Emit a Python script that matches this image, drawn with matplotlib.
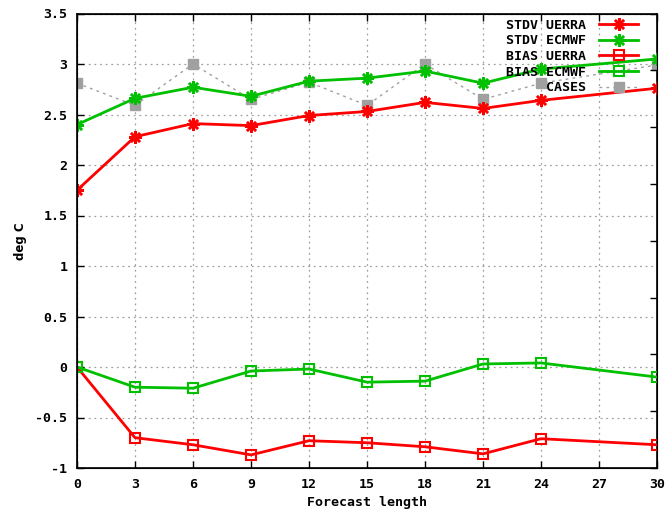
import matplotlib
matplotlib.use("Agg")
import matplotlib.pyplot as plt

# forecast lead times (h)
steps = [0, 3, 6, 9, 12, 15, 18, 21, 24, 30]

stdv_uerra = [1.75, 2.28, 2.41, 2.39, 2.49, 2.53, 2.62, 2.56, 2.64, 2.76]
stdv_ecmwf = [2.40, 2.66, 2.77, 2.68, 2.83, 2.86, 2.93, 2.81, 2.95, 3.05]
bias_uerra = [0.0, -0.70, -0.77, -0.87, -0.73, -0.75, -0.79, -0.86, -0.71, -0.77]
bias_ecmwf = [0.0, -0.20, -0.21, -0.04, -0.02, -0.15, -0.14, 0.03, 0.04, -0.10]
cases = [2.81, 2.59, 3.00, 2.65, 2.82, 2.59, 3.00, 2.65, 2.81, 2.99]

xticks = list(range(0, 31, 3))
yticks = [-1, -0.5, 0, 0.5, 1, 1.5, 2, 2.5, 3, 3.5]
ytick_labels = ["-1", "-0.5", "0", "0.5", "1", "1.5", "2", "2.5", "3", "3.5"]

red = "#ff0000"
green = "#00c000"
grey = "#a0a0a0"
mono = "DejaVu Sans Mono"

fig = plt.figure(figsize=(6.69, 5.18), dpi=100)
ax = fig.add_axes([77 / 669, 50 / 518, 580 / 669, 454.5 / 518])

star = (8, 2, 0)
ax.plot(steps, stdv_uerra, color=red, lw=2, marker=star, ms=9, mew=1.8,
        label="STDV UERRA", zorder=4)
ax.plot(steps, stdv_ecmwf, color=green, lw=2, marker=star, ms=9, mew=1.8,
        label="STDV ECMWF", zorder=4)
ax.plot(steps, bias_uerra, color=red, lw=2, marker="s", ms=6.5, mew=1.5,
        mfc="none", label="BIAS UERRA", zorder=4)
ax.plot(steps, bias_ecmwf, color=green, lw=2, marker="s", ms=6.5, mew=1.5,
        mfc="none", label="BIAS ECMWF", zorder=4)
ax.plot(steps, cases, color=grey, lw=1, ls=(0, (2, 3)), marker="s", ms=7,
        mfc=grey, mec=grey, label="     CASES", zorder=3)

ax.set_xlim(0, 30)
ax.set_ylim(-1, 3.5)
ax.set_xticks(xticks)
ax.set_yticks(yticks)
ax.set_yticklabels(ytick_labels)
ax.grid(True, color="#a0a0a0", ls=(0, (1.5, 3)), lw=0.9)
ax.tick_params(direction="in", length=5, width=1, top=True, right=True,
               labelsize=9.5, pad=7)
for lab in ax.get_xticklabels() + ax.get_yticklabels():
    lab.set_fontfamily(mono)
    lab.set_fontweight("bold")
for s in ax.spines.values():
    s.set_linewidth(1.2)

ax.set_xlabel("Forecast length", fontfamily=mono, fontweight="bold",
              fontsize=9.5, labelpad=4)
ax.set_ylabel("deg C", fontfamily="DejaVu Sans", fontweight="bold",
              fontsize=8.5, labelpad=6)

# secondary scale ticks on the right (no labels)
ax2 = ax.twinx()
ax2.set_ylim(0, 8)
ax2.set_yticks(range(0, 9))
ax2.tick_params(direction="in", length=5, width=1, labelright=False)

leg = ax.legend(loc="upper right", bbox_to_anchor=(0.985, 1.012),
                frameon=False, markerfirst=False, handlelength=2.9,
                handletextpad=1.0, labelspacing=0.2, borderpad=0.3,
                prop={"family": mono, "weight": "bold", "size": 9.5})
leg.set_zorder(10)

fig.savefig("out.png", dpi=100)
